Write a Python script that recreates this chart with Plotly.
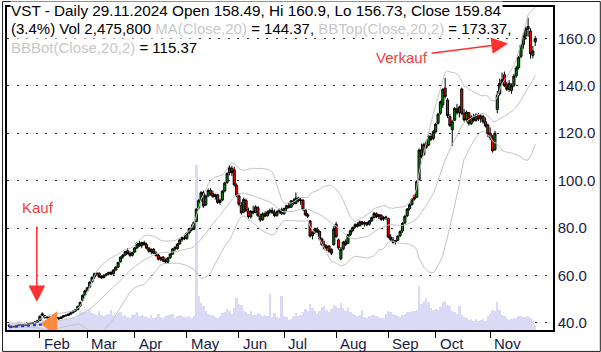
import plotly.graph_objects as go
import pandas as pd

# ---------------- data ----------------
holidays = ["2024-01-15", "2024-02-19", "2024-03-29", "2024-05-27",
            "2024-06-19", "2024-07-04", "2024-09-02", "2024-11-28"]
trade_dates = pd.bdate_range("2024-01-12", "2024-11-29", freq="C", holidays=holidays)
cats = [d.strftime("%Y-%m-%d") for d in trade_dates]

warmup_closes = [38.2, 38.6, 38.9, 39.3, 39.1, 39.6, 39.4, 39.5, 39.8, 39.3,
                 38.7, 38.4, 38.6, 39.0, 38.8, 39.2, 39.5, 39.3, 39.0]

opens = [38.9, 38.6, 38.2, 38.6, 38.8, 39.1, 39.3, 39.0, 39.3, 39.6, 39.8, 40.1, 40.4,
         41.0, 43.8, 43.0, 42.2, 42.4, 41.9, 42.2, 42.0, 42.1, 41.9, 42.5, 43.0, 43.1, 43.7, 44.3, 45.0, 45.6, 47.2, 49.5, 51.8,
         53.6, 55.0, 57.4, 59.3, 60.6, 60.9, 59.5, 59.1, 60.1, 60.7, 61.3, 60.7, 62.3, 63.5, 65.8, 67.8, 68.6, 70.4, 69.2, 68.5,
         69.9, 71.6, 73.4, 72.6, 73.8, 73.0, 71.5, 70.0, 71.0, 69.4, 68.6, 66.8, 67.7, 66.2, 65.6, 67.5, 69.0, 71.2, 71.4, 73.3, 75.1, 75.8,
         75.6, 78.0, 80.0, 79.5, 82.8, 88.5, 91.8, 95.0, 89.8, 93.6, 95.9, 94.5, 93.3, 94.0, 90.8, 91.8, 95.7, 99.2, 103.3, 105.2, 104.5, 98.0,
         93.5, 89.5, 86.8, 91.6, 87.2, 84.8, 87.0, 86.6, 88.6, 85.0, 83.5, 86.0, 85.2, 86.8, 87.4, 86.4, 85.2, 86.9, 87.6,
         86.0, 88.2, 89.4, 88.8, 91.5, 90.4, 92.6, 91.6, 91.7, 87.8, 85.6, 83.0, 76.8, 78.0, 79.6, 78.6, 75.4, 73.0, 71.6, 72.4, 71.0, 73.0,
         81.6, 75.0, 67.0, 71.2, 74.4, 73.5, 77.2, 79.0, 80.4, 81.6, 81.0, 82.6, 81.8, 82.2, 81.6, 83.0, 84.4, 86.0, 84.8, 85.4, 83.8, 84.4,
         84.0, 76.2, 75.0, 74.2, 74.8, 76.8, 78.8, 82.2, 85.2, 88.2, 90.0, 93.8, 93.0, 100.4, 113.0, 111.0, 116.0, 115.0, 118.6, 117.8,
         120.6, 124.2, 128.4, 132.0, 139.0, 134.0, 127.0, 121.4, 125.4, 130.2, 128.6, 138.6, 128.4, 125.6, 128.6, 124.0, 126.8, 125.4, 127.6, 126.0, 127.0, 124.8, 123.4,
         120.0, 118.0, 113.0, 130.0, 136.6, 141.2, 144.6, 140.4, 138.4, 138.0, 140.2, 144.2, 147.6, 152.4, 157.4, 161.0, 165.0, 163.0, 152.8, 158.49]
highs = [39.4, 38.9, 38.6, 39.0, 39.3, 39.5, 39.6, 39.4, 39.8, 40.0, 40.3, 40.6, 41.2,
         43.0, 44.5, 43.3, 42.8, 42.7, 42.4, 42.6, 42.5, 42.4, 42.6, 43.2, 43.5, 43.9, 44.4, 45.2, 45.8, 47.2, 49.0, 52.0, 54.0,
         55.2, 57.5, 59.6, 61.2, 61.4, 61.3, 60.1, 60.4, 61.0, 61.6, 61.8, 62.6, 63.8, 65.8, 68.0, 69.0, 70.4, 71.6, 70.2, 70.0,
         72.0, 74.0, 74.5, 74.2, 74.6, 73.8, 72.0, 71.4, 71.6, 70.2, 69.4, 68.0, 68.2, 67.2, 67.8, 69.4, 71.5, 72.4, 73.6, 75.4, 76.5, 77.2,
         78.2, 80.2, 81.5, 82.8, 88.4, 92.2, 95.6, 95.8, 94.0, 96.6, 96.8, 95.8, 94.5, 94.4, 92.4, 96.0, 99.5, 103.5, 106.6, 106.2, 105.8, 98.8,
         94.6, 91.0, 92.8, 92.4, 88.6, 87.6, 89.4, 89.6, 89.2, 86.0, 86.6, 87.0, 87.4, 88.2, 88.6, 87.8, 87.4, 88.2, 88.6,
         88.6, 89.8, 90.6, 91.8, 92.4, 95.0, 93.2, 92.8, 92.2, 88.0, 86.4, 83.4, 78.6, 80.2, 80.4, 79.0, 76.0, 74.6, 73.0, 72.8, 71.4, 80.8,
         82.6, 75.6, 72.0, 74.6, 75.2, 77.6, 79.4, 80.6, 82.0, 82.4, 83.2, 83.0, 82.8, 82.6, 83.4, 84.8, 86.8, 86.6, 86.0, 85.8, 85.0, 85.2,
         84.4, 77.4, 76.2, 75.0, 77.0, 79.0, 82.4, 85.4, 88.4, 90.4, 92.6, 94.4, 100.2, 113.6, 115.6, 115.8, 117.2, 119.4, 119.8, 121.4,
         124.4, 128.6, 133.8, 139.0, 143.3, 134.8, 128.0, 125.6, 131.0, 132.4, 131.6, 139.2, 130.2, 129.6, 129.0, 127.6, 128.2, 128.4, 128.6, 128.0, 127.8, 126.6, 124.0,
         122.4, 119.2, 121.0, 137.8, 143.0, 145.6, 146.0, 141.6, 142.4, 141.0, 145.0, 148.4, 152.6, 157.6, 162.4, 164.8, 168.6, 164.2, 156.8, 160.9]
lows = [38.5, 38.0, 37.9, 38.3, 38.6, 38.8, 38.9, 38.7, 39.1, 39.3, 39.5, 39.8, 40.1,
        40.8, 42.9, 41.9, 41.8, 41.7, 41.6, 41.8, 41.7, 41.3, 41.7, 42.3, 42.6, 42.9, 43.4, 44.0, 44.6, 45.3, 46.8, 49.0, 51.2,
        53.0, 54.6, 56.8, 58.6, 59.8, 58.9, 58.6, 58.8, 59.6, 60.0, 60.1, 60.4, 62.0, 63.2, 65.4, 67.0, 68.2, 68.9, 67.8, 68.0,
        69.5, 71.2, 72.0, 71.5, 72.6, 71.0, 69.6, 68.9, 69.0, 67.9, 66.3, 66.0, 65.6, 65.0, 65.2, 67.0, 68.7, 70.2, 70.8, 73.0, 74.3, 74.9,
        75.0, 77.4, 78.6, 79.0, 82.5, 87.6, 91.0, 88.5, 89.2, 93.0, 93.6, 92.8, 92.0, 90.2, 89.8, 91.3, 95.0, 98.6, 102.2, 102.0, 97.5, 93.0,
        89.2, 85.6, 86.2, 86.8, 84.0, 84.0, 85.8, 86.2, 84.6, 82.6, 83.0, 84.6, 84.8, 85.8, 86.0, 84.6, 84.8, 86.0, 85.6,
        85.6, 87.0, 88.2, 88.5, 89.6, 90.0, 90.8, 89.8, 87.2, 85.0, 84.2, 76.0, 75.2, 77.4, 77.8, 74.8, 72.4, 70.8, 70.4, 69.6, 68.6, 72.6,
        75.8, 70.8, 66.4, 70.6, 72.4, 73.2, 76.6, 78.2, 79.8, 80.2, 80.6, 81.2, 80.6, 80.8, 81.0, 82.6, 84.0, 84.2, 83.8, 83.0, 83.0, 83.4,
        75.6, 74.6, 73.4, 73.0, 74.4, 76.2, 78.0, 81.6, 84.6, 87.4, 89.4, 91.6, 92.6, 100.0, 109.4, 110.4, 113.4, 114.6, 116.6, 117.0,
        119.8, 123.6, 127.8, 130.6, 134.6, 126.4, 122.6, 114.6, 125.0, 127.8, 126.6, 127.6, 124.8, 124.6, 123.2, 123.4, 124.6, 124.8, 125.2, 124.4, 124.0, 122.4, 118.4,
        117.0, 111.8, 112.6, 128.4, 135.8, 140.2, 139.4, 137.8, 137.4, 136.6, 139.4, 143.4, 146.8, 151.6, 155.6, 159.4, 160.6, 151.4, 151.6, 156.73]
closes = [38.7, 38.3, 38.5, 38.8, 39.1, 39.3, 39.0, 39.2, 39.6, 39.8, 40.1, 40.4, 40.9,
          42.8, 43.3, 42.2, 42.5, 41.9, 42.2, 42.0, 42.3, 41.8, 42.5, 43.0, 43.2, 43.7, 44.2, 45.0, 45.5, 47.0, 48.6, 51.6, 53.5,
          54.8, 57.2, 59.2, 60.7, 60.9, 59.4, 59.0, 60.1, 60.6, 61.2, 60.5, 62.3, 63.5, 65.4, 67.7, 68.6, 70.0, 69.2, 68.5, 69.7,
          71.6, 73.6, 72.4, 73.9, 73.0, 71.5, 70.2, 71.0, 69.4, 68.4, 66.8, 67.6, 66.1, 65.7, 67.4, 69.0, 71.2, 71.8, 73.2, 75.0, 76.0, 75.6,
          77.8, 79.7, 79.2, 82.4, 87.9, 91.6, 94.9, 89.3, 93.5, 95.8, 94.3, 93.2, 94.0, 90.8, 91.6, 95.5, 99.0, 103.0, 105.4, 103.4, 98.2, 93.8,
          90.0, 86.4, 92.0, 87.4, 84.8, 87.0, 86.4, 88.9, 85.2, 83.4, 86.0, 85.0, 86.8, 87.4, 86.4, 85.2, 86.9, 87.6, 86.0,
          88.2, 89.4, 88.7, 91.4, 90.2, 92.6, 91.4, 91.8, 87.8, 85.6, 85.0, 76.6, 78.0, 79.6, 78.4, 75.4, 73.0, 71.4, 72.4, 70.2, 69.4, 79.6,
          76.4, 71.6, 71.0, 74.0, 73.0, 77.2, 78.8, 80.2, 81.4, 80.8, 82.6, 81.6, 82.2, 81.4, 83.0, 84.4, 86.2, 84.8, 85.6, 83.6, 84.4, 84.6,
          76.2, 75.2, 74.0, 74.6, 76.6, 78.6, 82.0, 85.0, 88.0, 89.8, 92.2, 92.2, 99.6, 112.8, 110.2, 115.2, 114.0, 118.8, 117.4, 120.6,
          123.8, 128.0, 133.2, 138.4, 135.4, 127.4, 123.2, 124.8, 130.4, 128.6, 131.0, 128.4, 125.6, 128.8, 124.0, 126.8, 125.4, 127.6, 126.0, 127.2, 124.8, 123.0, 119.6,
          118.0, 112.5, 120.0, 136.0, 141.0, 142.5, 140.0, 138.5, 141.0, 140.0, 144.0, 147.5, 152.0, 157.0, 161.0, 164.0, 163.9, 153.5, 154.6, 159.84]
volumes_m = [3.0, 3.4, 2.8, 3.2, 4.0, 3.1, 2.9, 3.3, 3.6, 3.0, 3.4, 3.8, 5.2,
             7.5, 6.0, 4.8, 4.2, 4.6, 4.0, 3.8, 4.4, 5.0, 4.2, 4.8, 5.4, 5.0, 5.6, 6.2, 5.8, 6.6, 8.8, 8.2, 9.0,
             8.4, 9.2, 8.0, 7.4, 6.8, 8.6, 7.0, 6.4, 6.8, 7.6, 9.4, 7.2, 6.6, 7.8, 8.4, 6.4, 7.0, 6.2, 5.8, 6.8,
             7.4, 8.2, 6.6, 7.0, 6.4, 6.0, 5.6, 6.8, 5.4, 6.2, 7.4, 6.0, 5.8, 6.4, 7.2, 6.8, 7.6, 5.8, 6.4, 7.0, 6.6, 6.0,
             6.0, 6.4, 5.8, 6.6, 76.5, 16.0, 12.4, 11.0, 8.6, 7.4, 6.8, 7.2, 6.0, 5.6, 6.4, 7.8, 8.4, 9.6, 8.8, 7.6, 10.2, 14.8,
             12.0, 11.4, 9.0, 8.2, 7.6, 8.8, 7.2, 6.8, 8.0, 7.4, 6.6, 7.0, 6.4, 16.6, 6.0, 7.8, 6.2, 5.8, 15.8,
             6.4, 6.0, 4.8, 5.2, 6.6, 7.8, 6.4, 7.0, 8.2, 9.6, 8.8, 12.0, 10.4, 8.6, 7.4, 9.0, 10.6, 11.2, 9.2, 8.4, 9.8, 11.8,
             11.0, 10.4, 12.4, 10.0, 8.6, 10.0, 8.2, 7.4, 7.0, 6.4, 6.8, 9.2, 6.0, 5.8, 6.4, 6.8, 7.2, 6.6, 6.0, 5.4, 5.6, 7.4,
             8.8, 8.2, 7.6, 7.0, 6.4, 6.0, 7.0, 7.6, 8.4, 8.2, 8.8, 9.0, 9.4, 20.4, 12.0, 13.6, 14.8, 12.8, 10.4, 9.4,
             9.8, 9.4, 10.8, 12.8, 13.4, 11.6, 11.0, 9.0, 8.4, 7.6, 11.0, 7.0, 6.2, 5.6, 4.8, 5.2, 4.4, 4.9, 4.2, 4.6, 5.0, 4.4, 6.4,
             7.6, 9.4, 8.6, 12.8, 9.2, 7.2, 6.6, 5.6, 4.8, 5.2, 5.8, 5.4, 6.4, 6.6, 6.0, 6.2, 6.4, 5.8, 4.4, 2.4758]
stop_line = [38.2, 38.3, 38.3, 38.4, 38.5, 38.6, 38.6, 38.7, 38.8, 38.9,
             39.0, 39.0, 39.1, 39.2, 39.3, 39.4, 39.5, 39.6]
price_ticks = [40, 60, 80, 100, 120, 140, 160]
header_lines = [
    "VST - Daily 29.11.2024 Open 158.49, Hi 160.9, Lo 156.73, Close 159.84",
    "(3.4%) Vol 2,475,800 <span style='color:#c8c8c8'>MA(Close,20)</span> = 144.37, "
    "<span style='color:#c8c8c8'>BBTop(Close,20,2)</span> = 173.37,",
    "<span style='color:#c8c8c8'>BBBot(Close,20,2)</span> = 115.37",
]

n = len(cats)
assert len(opens) == n and len(highs) == n and len(lows) == n and len(closes) == n and len(volumes_m) == n, \
    (n, len(opens), len(highs), len(lows), len(closes), len(volumes_m))

# ---------------- indicators ----------------
all_close = pd.Series(warmup_closes + closes)
ma = all_close.rolling(20).mean().iloc[len(warmup_closes):].tolist()
sd = all_close.rolling(20).std(ddof=0).iloc[len(warmup_closes):].tolist()
bb_top = [m + 2 * s for m, s in zip(ma, sd)]
bb_bot = [m - 2 * s for m, s in zip(ma, sd)]

month_cats, month_names = [], []
for i, d in enumerate(trade_dates):
    if i > 0 and d.month != trade_dates[i - 1].month:
        month_cats.append(cats[i])
        month_names.append(d.strftime("%b"))

# ---------------- figure ----------------
FONT = "Liberation Sans, Arial, sans-serif"
W, H = 601, 352
ML, MR, MT, MB = 5, 48, 6, 22
PW, PH = W - ML - MR, H - MT - MB


def px(x):
    return (x - ML) / PW


def py(y):
    return (H - MB - y) / PH


fig = go.Figure()
fig.add_trace(go.Bar(x=cats, y=[v * 1e6 for v in volumes_m], yaxis="y",
                     marker=dict(color="#dadaf6", line=dict(width=0)), hoverinfo="skip"))
for s in (bb_top, ma, bb_bot):
    fig.add_trace(go.Scatter(x=cats, y=s, yaxis="y2", mode="lines",
                             line=dict(color="#c4c4c4", width=1), hoverinfo="skip"))
fig.add_trace(go.Scatter(x=cats[:len(stop_line)], y=stop_line, yaxis="y2", mode="lines",
                         line=dict(color="#1a2cff", width=2, dash="3px,3px")))
fig.add_trace(go.Candlestick(
    x=cats, open=opens, high=highs, low=lows, close=closes, yaxis="y2",
    increasing=dict(line=dict(color="black", width=1), fillcolor="#008c00"),
    decreasing=dict(line=dict(color="black", width=1), fillcolor="#ff0000"),
))
fig.add_trace(go.Scatter(x=[cats[18]], y=[39.6], yaxis="y2", mode="markers",
                         marker=dict(symbol="triangle-left", size=22, color="#ff8a3d",
                                     line=dict(width=0))))

annotations = []
for line, yc, fs in zip(header_lines, (9.5, 28, 46.5), (15.3, 15, 15)):
    annotations.append(dict(text=line, xref="paper", yref="paper", x=px(8), y=py(yc),
                            xanchor="left", yanchor="middle", showarrow=False,
                            bgcolor="white", borderpad=0,
                            font=dict(family=FONT, size=fs, color="black")))
for mc, mn in zip(month_cats, month_names):
    annotations.append(dict(text=mn, xref="x", yref="paper", x=mc, y=0, xanchor="left",
                            yanchor="top", xshift=2, yshift=-3, showarrow=False,
                            font=dict(family=FONT, size=15, color="#1a1a40")))
# Kauf
annotations.append(dict(text="Kauf", xref="paper", yref="paper", x=px(36.5), y=py(207.5),
                        xanchor="center", yanchor="middle", showarrow=False,
                        font=dict(family=FONT, size=15, color="#f04040")))
annotations.append(dict(text="", xref="x", yref="y2", x=11.7, y=48.8, ax=0, ay=-77,
                        showarrow=True, arrowhead=2, arrowsize=2.2, arrowwidth=1.5,
                        arrowcolor="#ff3030"))
# Verkauf
annotations.append(dict(text="Verkauf", xref="paper", yref="paper", x=px(401), y=py(57),
                        xanchor="center", yanchor="middle", showarrow=False,
                        font=dict(family=FONT, size=15, color="#f04040")))
annotations.append(dict(text="", xref="x", yref="y2", x=210.5, y=157.8, ax=-78, ay=10,
                        showarrow=True, arrowhead=2, arrowsize=2.2, arrowwidth=1.5,
                        arrowcolor="#ff3030"))

fig.update_layout(
    width=W, height=H, margin=dict(l=ML, r=MR, t=MT, b=MB),
    paper_bgcolor="white", plot_bgcolor="white", showlegend=False, bargap=0,
    boxgap=0.12, boxgroupgap=0,
    font=dict(family=FONT, size=15, color="#1a1a40"),
    xaxis=dict(type="category", range=[-0.88, 229.5], showline=True, mirror=True,
               linecolor="black", linewidth=1.5, ticks="outside", ticklen=6,
               tickcolor="black", tickwidth=1, tickvals=month_cats, showticklabels=False,
               showgrid=False, rangeslider=dict(visible=False), fixedrange=True),
    yaxis=dict(range=[0, 150e6], visible=False, fixedrange=True),
    yaxis2=dict(overlaying="y", side="right", range=[37.0, 173.2], tickvals=price_ticks,
                tickformat=".1f", showgrid=True, gridcolor="#333333", gridwidth=1.2,
                griddash="2px,7.6px", showline=True, mirror=True, linecolor="black",
                linewidth=1.5, ticks="", zeroline=False, fixedrange=True,
                tickfont=dict(family=FONT, size=15, color="#1a1a40")),
    annotations=annotations,
    shapes=[dict(type="rect", xref="paper", yref="paper",
                 x0=px(0.5), x1=px(600.5), y0=py(351.5), y1=py(0.5),
                 line=dict(color="#222222", width=1), fillcolor="rgba(0,0,0,0)")],
)

fig.write_html("out.html")
